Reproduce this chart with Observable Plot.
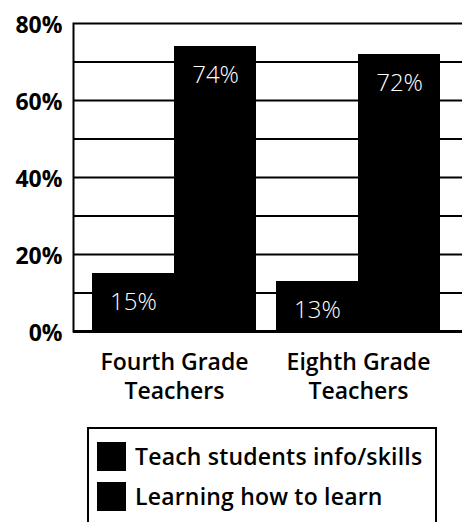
<!DOCTYPE html>
<html>
<head>
<meta charset="utf-8">
<script src="https://cdn.jsdelivr.net/npm/d3@7"></script>
<script src="https://cdn.jsdelivr.net/npm/@observablehq/plot@0.6"></script>
<style>
  html, body { margin: 0; padding: 0; background: #fff; }
  #chart svg { display: block; }
  .legend {
    margin: 12px 0 0 87px; width: 350px; border: 2px solid #000; border-bottom: none;
    padding: 7px 0 20px 8px; font-family: "Open Sans", Lato, sans-serif; font-weight: 600;
    font-size: 23px; color: #000; box-sizing: border-box; height: 110px; letter-spacing: 0.2px;
  }
  .legend div { display: flex; align-items: center; height: 40px; }
  .legend span.sw { width: 29px; height: 29px; background: #000; margin-right: 9px; display: inline-block; flex: none; }
</style>
</head>
<body>
<div id="chart"></div>
<div class="legend" id="legend"></div>
<script>
const groups = ["Fourth Grade\nTeachers", "Eighth Grade\nTeachers"];
const series = ["Teach students info/skills", "Learning how to learn"];
const teachValues = [15, 13];
const learnValues = [74, 72];
const yTicks = [0, 20, 40, 60, 80];
const gridValues = [10, 20, 30, 40, 50, 60, 70];
const colors = ["#000", "#000"];

const teachData = groups.map((g, i) => ({group: g, series: series[0], value: teachValues[i]}));
const learnData = groups.map((g, i) => ({group: g, series: series[1], value: learnValues[i]}));

const xRange = [91, 440];
const padIn = 0.11;
const bandW = (xRange[1] - xRange[0]) / (2 - padIn) * (1 - padIn);
const half = bandW / 2;

const chart = Plot.plot({
  width: 462,
  height: 415,
  marginLeft: 73,
  marginRight: -3,
  marginTop: 23,
  marginBottom: 84,
  style: {fontFamily: "'Open Sans', Lato, sans-serif", color: "#000", background: "#fff"},
  x: {domain: groups, range: xRange, paddingInner: padIn, paddingOuter: 0, axis: null, label: null},
  y: {domain: [0, 80], axis: null, label: null},
  marks: [
    Plot.ruleY(gridValues, {stroke: "#000", strokeWidth: 2}),
    Plot.frame({stroke: "#000", strokeWidth: 2}),
    Plot.barY(teachData, {x: "group", y: "value", fill: colors[0], insetRight: half, shapeRendering: "crispEdges"}),
    Plot.barY(learnData, {x: "group", y: "value", fill: colors[1], insetLeft: half, shapeRendering: "crispEdges"}),
    Plot.ruleY([0], {stroke: "#000", strokeWidth: 3}),
    Plot.text(teachData, {x: "group", y: "value", text: d => d.value + "%", dx: -half / 2, dy: 29, fill: "#fff", fontSize: 24, fontWeight: 300}),
    Plot.text(learnData, {x: "group", y: "value", text: d => d.value + "%", dx: half / 2, dy: 29, fill: "#fff", fontSize: 24, fontWeight: 300}),
    Plot.axisY(yTicks, {tickSize: 0, tickPadding: 11, tickFormat: d => d + "%", fontSize: 23, fontWeight: "bold", dy: 2, label: null, style: {letterSpacing: "1px"}}),
    Plot.axisX({tickSize: 0, tickPadding: 18, fontSize: 23, fontWeight: 600, lineHeight: 1.27, label: null})
  ]
});
document.getElementById("chart").appendChild(chart);

const leg = document.getElementById("legend");
series.forEach((s, i) => {
  const row = document.createElement("div");
  const sw = document.createElement("span");
  sw.className = "sw";
  sw.style.background = colors[i];
  row.appendChild(sw);
  row.appendChild(document.createTextNode(s));
  leg.appendChild(row);
});
</script>
</body>
</html>
